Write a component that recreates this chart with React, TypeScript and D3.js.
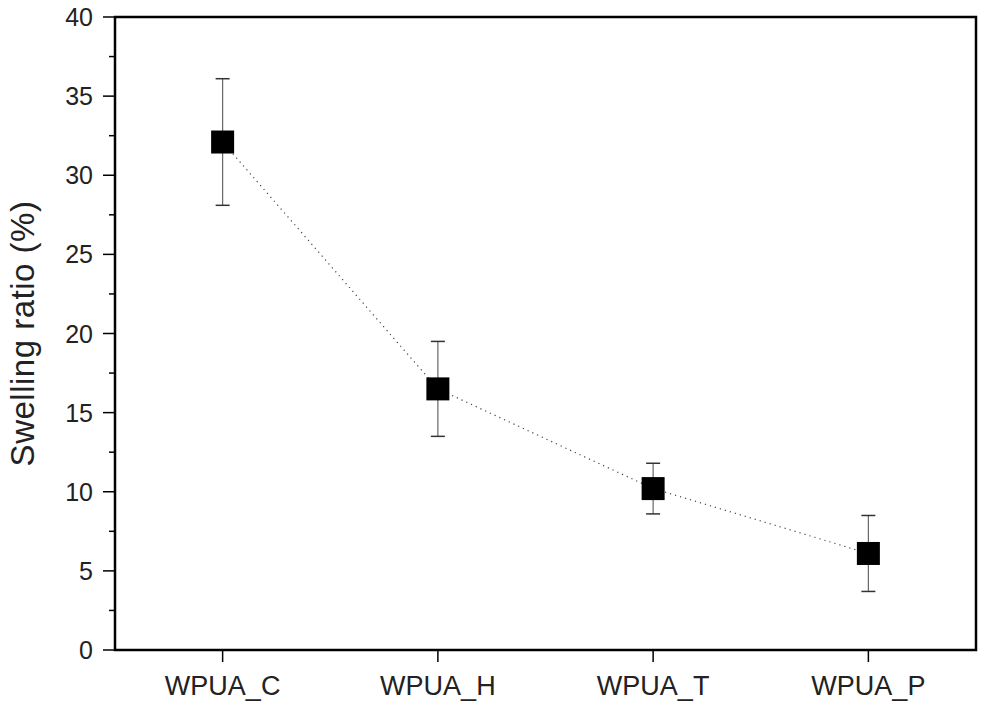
import * as d3 from "d3";
import { useEffect, useRef } from "react";

const categories = ["WPUA_C", "WPUA_H", "WPUA_T", "WPUA_P"];
const swelling = [32.1, 16.5, 10.2, 6.1];
const errors = [4.0, 3.0, 1.6, 2.4];
const yTicks = [0, 5, 10, 15, 20, 25, 30, 35, 40];

const W = 981;
const H = 709;
const margin = { top: 17, right: 5, bottom: 59, left: 115 };

const drawChart = (target: SVGSVGElement) => {
  const svg = d3.select(target);
  svg.selectAll("*").remove();

  const x = d3
    .scaleLinear()
    .domain([0.5, categories.length + 0.5])
    .range([margin.left, W - margin.right]);
  const y = d3
    .scaleLinear()
    .domain([0, 40])
    .range([H - margin.bottom, margin.top]);

  const font = "'Liberation Sans', Arial, sans-serif";

  // y axis ticks (major + minor)
  const minor = d3.range(2.5, 40, 5);
  svg
    .append("g")
    .selectAll("line.minor")
    .data(minor)
    .join("line")
    .attr("x1", margin.left - 6)
    .attr("x2", margin.left)
    .attr("y1", (d) => y(d))
    .attr("y2", (d) => y(d))
    .attr("stroke", "#000")
    .attr("stroke-width", 1.5);

  svg
    .append("g")
    .selectAll("line.major")
    .data(yTicks)
    .join("line")
    .attr("x1", margin.left - 12)
    .attr("x2", margin.left)
    .attr("y1", (d) => y(d))
    .attr("y2", (d) => y(d))
    .attr("stroke", "#000")
    .attr("stroke-width", 1.5);

  svg
    .append("g")
    .selectAll("text")
    .data(yTicks)
    .join("text")
    .attr("x", margin.left - 22)
    .attr("y", (d) => y(d))
    .attr("dy", "0.36em")
    .attr("text-anchor", "end")
    .attr("font-family", font)
    .attr("font-size", 25)
    .attr("fill", "#222")
    .text((d) => d);

  // x ticks
  svg
    .append("g")
    .selectAll("line")
    .data(categories)
    .join("line")
    .attr("x1", (_, i) => x(i + 1))
    .attr("x2", (_, i) => x(i + 1))
    .attr("y1", y(0))
    .attr("y2", y(0) + 12)
    .attr("stroke", "#000")
    .attr("stroke-width", 1.5);

  svg
    .append("g")
    .selectAll("text")
    .data(categories)
    .join("text")
    .attr("x", (_, i) => x(i + 1))
    .attr("y", y(0) + 45)
    .attr("text-anchor", "middle")
    .attr("font-family", font)
    .attr("font-size", 27)
    .attr("fill", "#222")
    .text((d) => d);

  // y label
  svg
    .append("text")
    .attr("transform", `translate(34,${(y(0) + y(40)) / 2}) rotate(-90)`)
    .attr("text-anchor", "middle")
    .attr("font-family", font)
    .attr("font-size", 33)
    .attr("letter-spacing", 0.5)
    .attr("fill", "#222")
    .text("Swelling ratio (%)");

  // dotted connecting line
  const line = d3
    .line<number>()
    .x((_, i) => x(i + 1))
    .y((d) => y(d));
  svg
    .append("path")
    .attr("d", line(swelling))
    .attr("fill", "none")
    .attr("stroke", "#444")
    .attr("stroke-width", 1.2)
    .attr("stroke-dasharray", "1.2 4");

  // error bars
  const eb = svg.append("g").attr("stroke", "#666").attr("stroke-width", 1.2);
  swelling.forEach((v, i) => {
    const cx = x(i + 1);
    eb.append("line")
      .attr("x1", cx)
      .attr("x2", cx)
      .attr("y1", y(v + errors[i]))
      .attr("y2", y(v - errors[i]));
    [v + errors[i], v - errors[i]].forEach((e) => {
      eb.append("line")
        .attr("x1", cx - 7)
        .attr("x2", cx + 7)
        .attr("y1", y(e))
        .attr("y2", y(e))
        .attr("stroke", "#333")
        .attr("stroke-width", 1.5);
    });
  });

  // markers
  const s = 23;
  svg
    .append("g")
    .selectAll("rect")
    .data(swelling)
    .join("rect")
    .attr("x", (_, i) => x(i + 1) - s / 2)
    .attr("y", (d) => y(d) - s / 2)
    .attr("width", s)
    .attr("height", s)
    .attr("fill", "#000");

  // frame
  svg
    .append("rect")
    .attr("x", margin.left)
    .attr("y", margin.top)
    .attr("width", W - margin.left - margin.right)
    .attr("height", H - margin.top - margin.bottom)
    .attr("fill", "none")
    .attr("stroke", "#000")
    .attr("stroke-width", 2.5);
};

const App = () => {
  const ref = useRef<SVGSVGElement>(null);
  useEffect(() => {
    if (ref.current) drawChart(ref.current);
  }, []);
  return (
    <svg
      ref={ref}
      width={W}
      height={H}
      style={{ position: "absolute", left: 0, top: 0, background: "#fff" }}
    />
  );
};

export default App;
